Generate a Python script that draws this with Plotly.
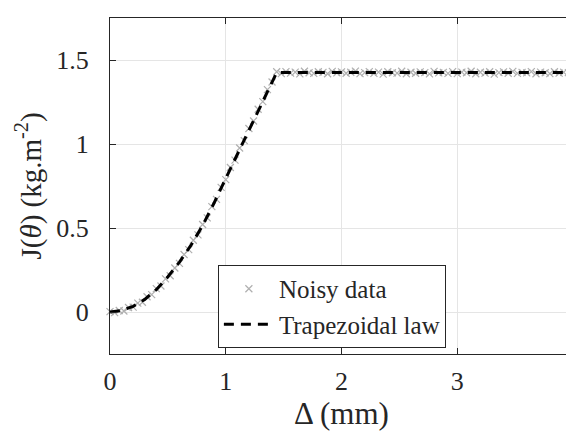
import plotly.graph_objects as go

# Trapezoidal law curve
law_x = [0.0, 0.1, 0.2, 0.3, 0.4, 0.5, 0.6, 0.7, 0.8, 0.9, 1.0, 1.1, 1.2, 1.3, 1.44, 4.0]
law_y = [0.0, 0.009, 0.034, 0.075, 0.133, 0.21, 0.297, 0.398, 0.515, 0.65, 0.795, 0.94,
         1.085, 1.23, 1.425, 1.425]

# Noisy data
noisy_x = [0.00, 0.04, 0.08, 0.12, 0.16, 0.20, 0.24, 0.28, 0.32, 0.36,
           0.40, 0.44, 0.48, 0.52, 0.56, 0.60, 0.64, 0.68, 0.72, 0.76,
           0.80, 0.84, 0.88, 0.92, 0.96, 1.00, 1.04, 1.08, 1.12, 1.16,
           1.20, 1.24, 1.28, 1.32, 1.36, 1.40, 1.44, 1.48, 1.52, 1.56,
           1.60, 1.64, 1.68, 1.72, 1.76, 1.80, 1.84, 1.88, 1.92, 1.96,
           2.00, 2.04, 2.08, 2.12, 2.16, 2.20, 2.24, 2.28, 2.32, 2.36,
           2.40, 2.44, 2.48, 2.52, 2.56, 2.60, 2.64, 2.68, 2.72, 2.76,
           2.80, 2.84, 2.88, 2.92, 2.96, 3.00, 3.04, 3.08, 3.12, 3.16,
           3.20, 3.24, 3.28, 3.32, 3.36, 3.40, 3.44, 3.48, 3.52, 3.56,
           3.60, 3.64, 3.68, 3.72, 3.76, 3.80, 3.84, 3.88, 3.92, 3.96,
           4.00]
noisy_y = [0.002, -0.004, 0.009, 0.006, 0.027, 0.029, 0.053, 0.058, 0.091, 0.103,
           0.139, 0.155, 0.197, 0.216, 0.262, 0.289, 0.342, 0.371, 0.427, 0.459,
           0.521, 0.560, 0.627, 0.670, 0.742, 0.788, 0.860, 0.904, 0.976, 1.020,
           1.092, 1.137, 1.207, 1.252, 1.324, 1.369, 1.430,
           1.419, 1.431, 1.422, 1.428, 1.417, 1.433, 1.424, 1.420, 1.430, 1.426,
           1.418, 1.432, 1.423, 1.429, 1.421, 1.427, 1.434, 1.419, 1.425, 1.431,
           1.420, 1.428, 1.416, 1.430, 1.424, 1.422, 1.433, 1.418, 1.427, 1.421,
           1.429, 1.425, 1.417, 1.432, 1.423, 1.426, 1.420, 1.431, 1.419, 1.428,
           1.424, 1.433, 1.418, 1.427, 1.422, 1.430, 1.416, 1.425, 1.429, 1.421,
           1.432, 1.420, 1.426, 1.423, 1.431, 1.418, 1.428, 1.424, 1.419, 1.430,
           1.422, 1.427, 1.425, 1.421]

x_ticks = [0, 1, 2, 3, 4]
y_ticks = [0, 0.5, 1, 1.5]
y_tick_labels = ["0", "0.5", "1", "1.5"]

FONT = "Liberation Serif"
AX = "#262626"

fig = go.Figure()
fig.add_trace(go.Scatter(
    x=noisy_x, y=noisy_y, mode="markers", name="Noisy data",
    marker=dict(symbol="x-thin", size=7, line=dict(width=1.2, color="#b0b0b0"), color="#b0b0b0"),
    cliponaxis=False,
))
fig.add_trace(go.Scatter(
    x=law_x, y=law_y, mode="lines", name="Trapezoidal law",
    line=dict(color="black", width=3, dash="10px,7px"),
))

axis_common = dict(
    showline=True, linecolor=AX, linewidth=1, mirror="ticks",
    ticks="inside", ticklen=6, tickcolor=AX, tickwidth=1,
    showgrid=True, gridcolor="#e5e5e5", gridwidth=1, zeroline=False,
    tickfont=dict(family=FONT, size=26, color=AX),
    automargin=False,
)

fig.update_xaxes(range=[0, 4], tickvals=x_ticks, ticklabelstandoff=4,
                 ticklabeloverflow="allow",
                 title=dict(text="Δ (mm)", font=dict(family=FONT, size=31, color=AX), standoff=6),
                 **axis_common)
fig.update_yaxes(range=[-0.25, 1.75], tickvals=y_ticks, ticktext=y_tick_labels, ticklabelstandoff=15,
                 title=dict(text="J(<i>θ</i>) (kg.m<sup>-2</sup>)", font=dict(family=FONT, size=29, color=AX), standoff=6),
                 **axis_common)

fig.update_layout(
    width=574, height=432,
    margin=dict(l=102, r=9, t=10, b=86),
    paper_bgcolor="white", plot_bgcolor="white",
    font=dict(family=FONT, color=AX),
    showlegend=True,
    legend=dict(x=0.233, y=0.018, xanchor="left", yanchor="bottom",
                bgcolor="white", bordercolor=AX, borderwidth=1,
                font=dict(family=FONT, size=25, color=AX),
                tracegroupgap=0, itemwidth=50),
)

fig.write_html("out.html")
